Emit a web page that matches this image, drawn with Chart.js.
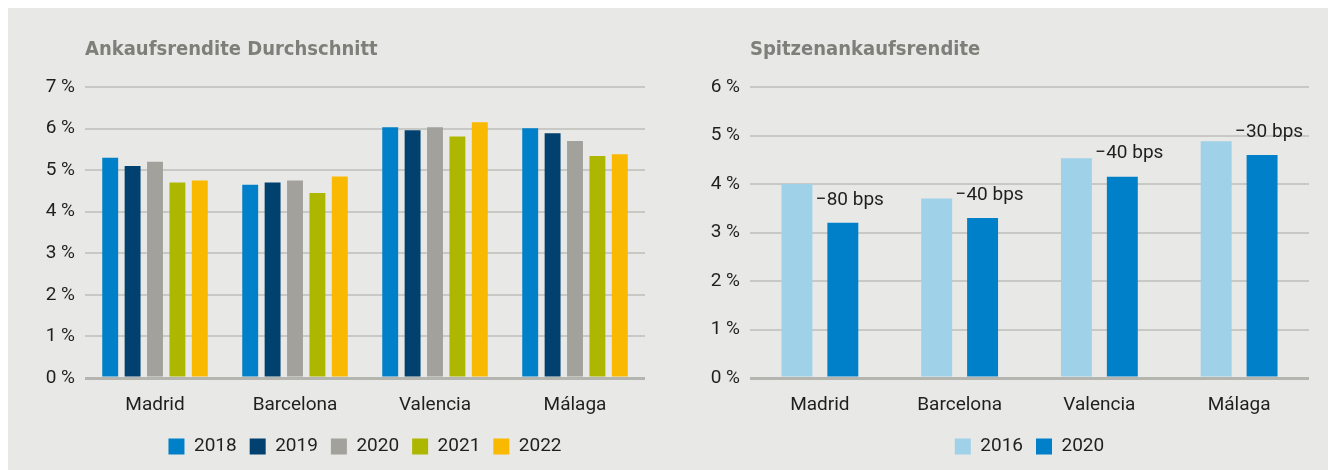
<!DOCTYPE html>
<html>
<head>
<meta charset="utf-8">
<script src="https://cdn.jsdelivr.net/npm/chart.js@4.4.0/dist/chart.umd.min.js"></script>
<style>
html,body{margin:0;padding:0;background:#ffffff;width:1328px;height:470px;overflow:hidden;}
#panel{position:absolute;left:8px;top:8px;width:1320px;height:462px;background:#e8e8e6;}
canvas{position:absolute;top:0;}
#c1{left:8px;}
#c2{left:664px;}
</style>
</head>
<body>
<div id="panel"></div>
<canvas id="c1" width="656" height="470"></canvas>
<canvas id="c2" width="664" height="470"></canvas>
<script>
// ---------- data ----------
const categories = ['Madrid', 'Barcelona', 'Valencia', 'Málaga'];

const titleAvg = 'Ankaufsrendite Durchschnitt';
const titlePrime = 'Spitzenankaufsrendite';

const avgYears = ['2018', '2019', '2020', '2021', '2022'];
const avg2018 = [5.30, 4.65, 6.03, 6.01];
const avg2019 = [5.10, 4.70, 5.96, 5.89];
const avg2020 = [5.20, 4.75, 6.03, 5.70];
const avg2021 = [4.70, 4.45, 5.81, 5.34];
const avg2022 = [4.75, 4.85, 6.15, 5.38];

const primeYears = ['2016', '2020'];
const prime2016 = [4.00, 3.70, 4.53, 4.88];
const prime2020 = [3.20, 3.30, 4.15, 4.60];
const bpsLabels = ['\u221280 bps', '\u221240 bps', '\u221240 bps', '\u221230 bps'];

const avgTicksMax = 7;
const primeTicksMax = 6;

// ---------- styles ----------
const FONT = 'Roboto, "Open Sans", sans-serif';
const TEXT = '#1f1f1f';
const colAvg = ['#0080c9', '#00416f', '#a3a19c', '#adb700', '#f9b900'];
const colPrime = ['#9fd1e8', '#0080c9'];

const panelTitle = {
  id: 'panelTitle',
  afterDraw(chart, args, opts) {
    const ctx = chart.ctx;
    ctx.save();
    ctx.font = 'bold 20px "Liberation Sans Narrow", "DejaVu Sans Condensed", "Roboto Condensed", sans-serif';
    ctx.fillStyle = '#7f7f7a';
    ctx.textAlign = 'left';
    ctx.textBaseline = 'alphabetic';
    ctx.fillText(opts.text, chart.chartArea.left, 55);
    ctx.restore();
  }
};

const centerLegend = {
  id: 'centerLegend',
  afterLayout(chart) {
    if (chart.legend) {
      chart.legend.left = chart.chartArea.left;
      chart.legend.right = chart.chartArea.right;
    }
  }
};

const bpsPlugin = {
  id: 'bpsPlugin',
  afterDatasetsDraw(chart, args, opts) {
    if (!opts.labels) return;
    const ctx = chart.ctx;
    const meta = chart.getDatasetMeta(1);
    ctx.save();
    ctx.font = '19px ' + FONT;
    ctx.fillStyle = TEXT;
    ctx.textAlign = 'center';
    ctx.textBaseline = 'middle';
    meta.data.forEach((bar, i) => {
      ctx.fillText(opts.labels[i], bar.x + 7, bar.y - 23);
    });
    ctx.restore();
  }
};

function makeOptions(title, maxV, axisWidth, catPct, barPct, labels) {
  return {
    responsive: false,
    animation: false,
    devicePixelRatio: 1,
    layout: { padding: { top: 87, right: 19, left: 0, bottom: 4 } },
    datasets: { bar: { categoryPercentage: catPct, barPercentage: barPct } },
    scales: {
      x: {
        grid: { display: false, drawTicks: false },
        border: { display: false },
        ticks: { color: TEXT, font: { family: FONT, size: 19 }, padding: 16, maxRotation: 0 },
        afterFit(s) { s.height = 46; }
      },
      y: {
        min: 0, max: maxV,
        grid: {
          drawTicks: false,
          color: c => (c.tick && c.tick.value === 0) ? '#b5b5b0' : '#c8c8c4',
          lineWidth: c => (c.tick && c.tick.value === 0) ? 3 : 2
        },
        border: { display: false },
        ticks: {
          stepSize: 1, padding: 10, color: TEXT,
          font: { family: FONT, size: 19 },
          callback: v => v + ' %'
        },
        afterFit(s) { s.width = axisWidth; }
      }
    },
    plugins: {
      legend: {
        position: 'bottom',
        labels: {
          boxWidth: 16, boxHeight: 16, padding: 13, color: TEXT,
          font: { family: FONT, size: 19 }
        }
      },
      tooltip: { enabled: false },
      panelTitle: { text: title },
      bpsPlugin: { labels: labels }
    }
  };
}

const avgSeries = [avg2018, avg2019, avg2020, avg2021, avg2022];
new Chart(document.getElementById('c1'), {
  type: 'bar',
  data: {
    labels: categories,
    datasets: avgSeries.map((d, i) => ({
      label: avgYears[i], data: d, backgroundColor: colAvg[i], borderWidth: 0
    }))
  },
  options: makeOptions(titleAvg, avgTicksMax, 77, 0.8, 0.71, null),
  plugins: [panelTitle, centerLegend, bpsPlugin]
});

const primeSeries = [prime2016, prime2020];
new Chart(document.getElementById('c2'), {
  type: 'bar',
  data: {
    labels: categories,
    datasets: primeSeries.map((d, i) => ({
      label: primeYears[i], data: d, backgroundColor: colPrime[i], borderWidth: 0
    }))
  },
  options: makeOptions(titlePrime, primeTicksMax, 86, 0.657, 0.674, bpsLabels),
  plugins: [panelTitle, centerLegend, bpsPlugin]
});
</script>
</body>
</html>
